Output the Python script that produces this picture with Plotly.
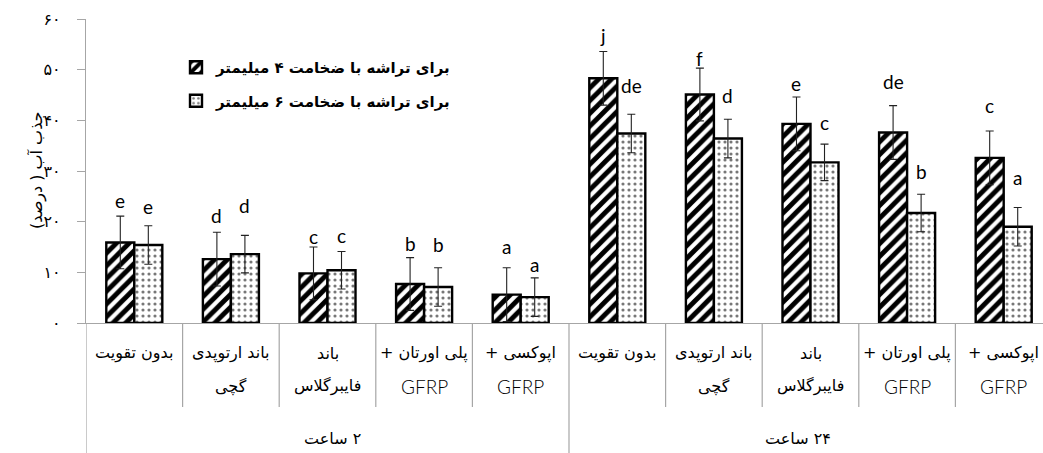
import plotly.graph_objects as go

# Water absorption (%) for two lamination thicknesses, after 2 h and 24 h
groups = ["۲ ساعت", "۲۴ ساعت"]
cat_line1 = ["بدون تقویت", "باند ارتوپدی", "باند", "پلی اورتان +", "اپوکسی +",
             "بدون تقویت", "باند ارتوپدی", "باند", "پلی اورتان +", "اپوکسی +"]
cat_line2 = ["", "گچی", "فایبرگلاس", "GFRP", "GFRP",
             "", "گچی", "فایبرگلاس", "GFRP", "GFRP"]

series_names = ["برای تراشه با ضخامت ۴ میلیمتر", "برای تراشه با ضخامت ۶ میلیمتر"]
mm4_values = [15.9, 12.6, 9.8, 7.7, 5.6, 48.3, 45.1, 39.3, 37.6, 32.6]
mm4_errors = [5.2, 5.3, 5.2, 5.2, 5.3, 5.3, 5.2, 5.3, 5.3, 5.3]
mm6_values = [15.4, 13.6, 10.4, 7.1, 5.1, 37.4, 36.4, 31.7, 21.7, 19.0]
mm6_errors = [3.8, 3.7, 3.7, 3.8, 3.8, 3.8, 3.8, 3.6, 3.7, 3.8]
mm4_letters = ["e", "d", "c", "b", "a", "j", "f", "e", "de", "c"]
mm6_letters = ["e", "d", "c", "b", "a", "de", "d", "c", "b", "a"]

y_tickvals = [0, 10, 20, 30, 40, 50, 60]
y_ticktext = ["۰", "۱۰", "۲۰", "۳۰", "۴۰", "۵۰", "۶۰"]
y_title = "جذب آب ( درصد)"

# layout geometry
W, H = 1043, 453
ML, MT, MB = 86, 19, 130
plot_h = H - MT - MB
cat_px = 96.6
x_hi = (W - ML) / cat_px - 0.5
bar_w = 0.29
AXIS_GREY = "#a6a6a6"
PERSIAN = "DejaVu Sans"
LATIN = "Lato"
RLM = "\u200f"


def rtl(s):
    """Wrap a Persian string in RLM marks so it is laid out right-to-left."""
    return RLM + s + RLM if s and not s.isascii() else s


# vertical offsets (px) of the significance letters above the error caps
mm4_letter_shift = [16, 17, 11, 14, 21, 16, 10, 14, 24, 25]
mm6_letter_shift = [19, 30, 16, 23, 13, 29, 24, 22, 23, 30]

x = list(range(len(mm4_values)))
err_style = dict(type="data", visible=True, color="#222222", thickness=1.1, width=4)

fig = go.Figure()
fig.add_trace(go.Bar(
    x=x, y=mm4_values, name=rtl(series_names[0]), width=bar_w, offset=-bar_w,
    marker=dict(color="white", line=dict(color="black", width=2.4),
                pattern=dict(shape="/", fgcolor="black", bgcolor="white",
                             size=9, solidity=0.55, fgopacity=1)),
    error_y=dict(array=mm4_errors, **err_style),
    legendgroup="a",
))
fig.add_trace(go.Bar(
    x=x, y=mm6_values, name=rtl(series_names[1]), width=bar_w, offset=0,
    marker=dict(color="white", line=dict(color="black", width=2.4),
                pattern=dict(shape=".", fgcolor="#777777", bgcolor="white",
                             size=6, solidity=0.22, fgopacity=1)),
    error_y=dict(array=mm6_errors, **err_style),
    legendgroup="b",
))

annotations = []
# significance letters
letter_font = dict(family=LATIN, size=19, color="black")
for i in x:
    annotations.append(dict(x=i - bar_w / 2, y=mm4_values[i] + mm4_errors[i],
                            text=mm4_letters[i], showarrow=False, yanchor="middle",
                            yshift=mm4_letter_shift[i], font=letter_font))
    annotations.append(dict(x=i + bar_w / 2, y=mm6_values[i] + mm6_errors[i],
                            text=mm6_letters[i], showarrow=False, yanchor="middle",
                            yshift=mm6_letter_shift[i], font=letter_font))


def paper_y(px):
    return (H - MB - px) / plot_h


# category labels (two lines each)
for i in x:
    annotations.append(dict(x=i, xref="x", y=paper_y(353), yref="paper",
                            text=rtl(cat_line1[i]), showarrow=False, yanchor="middle",
                            font=dict(family=PERSIAN, size=16, color="black")))
    if cat_line2[i]:
        latin = cat_line2[i].isascii()
        annotations.append(dict(x=i, xref="x", y=paper_y(386), yref="paper",
                                text=rtl(cat_line2[i]), showarrow=False,
                                yanchor="middle",
                                font=dict(family=LATIN if latin else PERSIAN,
                                          size=19 if latin else 16, color="black",
                                          weight=300 if latin else 400)))

# group labels
group_size = 5
group_xshift = [5, -13]
for g, name in enumerate(groups):
    annotations.append(dict(x=g * group_size + (group_size - 1) / 2, xref="x",
                            y=paper_y(438), yref="paper", text=rtl(name),
                            showarrow=False, yanchor="middle", xshift=group_xshift[g],
                            font=dict(family=PERSIAN, size=16, color="black")))

# y-axis title
annotations.append(dict(x=(25 - ML) / (W - ML), xref="paper", y=0.5, yref="paper",
                        text=rtl(y_title), textangle=-90, showarrow=False,
                        font=dict(family=PERSIAN, size=16, color="black")))

# category and group dividers below the axis
shapes = []
for i in range(len(x) + 1):
    b = i - 0.5
    if b > x_hi:
        continue
    is_group = (i % group_size == 0)
    shapes.append(dict(type="line", xref="x", yref="paper", x0=b, x1=b,
                       y0=0, y1=paper_y(H) if is_group else paper_y(407),
                       line=dict(color=AXIS_GREY, width=1.2)))

fig.update_layout(
    width=W, height=H,
    margin=dict(l=ML, r=0, t=MT, b=MB),
    paper_bgcolor="white", plot_bgcolor="white",
    barmode="overlay",
    showlegend=True,
    legend=dict(x=(176 - ML) / (W - ML), y=paper_y(51), xanchor="left", yanchor="top",
                bgcolor="rgba(0,0,0,0)", tracegroupgap=11,
                font=dict(family=PERSIAN, size=15, color="black", weight="bold")),
    xaxis=dict(range=[-0.5, x_hi], showticklabels=False, showgrid=False,
               zeroline=False, showline=True, linecolor=AXIS_GREY, linewidth=1.2,
               ticks=""),
    yaxis=dict(range=[0, 60], tickvals=y_tickvals, ticktext=y_ticktext,
               showgrid=False, zeroline=False, showline=True, linecolor=AXIS_GREY,
               linewidth=1.2, ticks="outside", ticklen=8, tickcolor=AXIS_GREY,
               tickwidth=1.2, ticklabelstandoff=13,
               tickfont=dict(family=PERSIAN, size=16, color="black")),
    annotations=annotations,
    shapes=shapes,
)

fig.write_html("out.html")
